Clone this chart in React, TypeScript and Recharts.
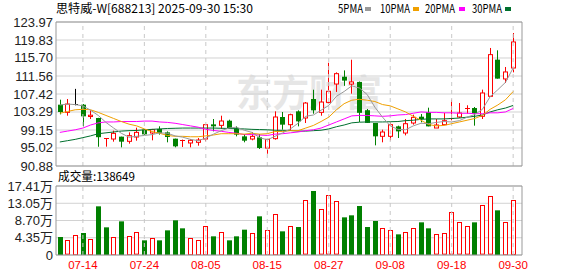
import React from 'react';
import { ComposedChart, Bar, Line, XAxis, YAxis, CartesianGrid, ReferenceLine } from 'recharts';

const dates = [
  '07-09','07-10','07-11','07-14','07-15','07-16','07-17','07-18','07-21','07-22',
  '07-23','07-24','07-25','07-28','07-29','07-30','07-31','08-01','08-04','08-05',
  '08-06','08-07','08-08','08-11','08-12','08-13','08-14','08-15','08-18','08-19',
  '08-20','08-21','08-22','08-25','08-26','08-27','08-28','08-29','09-01','09-02',
  '09-03','09-04','09-05','09-08','09-09','09-10','09-11','09-12','09-15','09-16',
  '09-17','09-18','09-19','09-22','09-23','09-24','09-25','09-26','09-29','09-30',
];
const opens = [
  104.97,103.21,105.05,104.97,102.25,101.91,97.1,97.08,97.62,96.55,
  97.54,99.23,98.46,99.38,98.61,97.16,96.8,96.17,96.32,97.08,
  100.45,100.22,101.29,99.53,97.69,97.08,97.47,95.0,97.16,102.14,
  100.38,103.44,101.91,106.27,103.21,105.5,109.72,111.4,109.7,110.2,
  103.7,100.76,97.7,97.7,99.99,98.46,100.76,102.21,103.29,99.61,
  100.38,101.83,102.15,104.0,104.2,102.3,106.9,115.32,110.88,113.4,
];
const highs = [
  106.12,106.27,108.6,105.12,103.66,101.95,97.24,99.0,97.62,98.61,
  99.69,99.38,99.4,100.0,98.84,97.16,96.95,97.08,97.31,100.45,
  101.68,102.44,101.52,99.99,98.23,98.69,98.23,97.1,103.44,103.29,
  102.9,103.67,105.58,108.41,108.41,114.6,112.4,112.85,115.3,110.3,
  103.98,100.76,99.23,100.91,100.15,101.68,102.67,102.82,104.28,101.68,
  103.06,106.12,105.35,104.83,104.44,108.43,118.0,117.46,113.63,121.44,
];
const lows = [
  102.75,102.44,104.82,99.99,101.68,95.3,95.32,96.47,95.17,96.01,
  96.7,98.07,96.78,98.08,96.32,95.17,95.25,95.17,95.55,96.55,
  98.84,99.38,99.38,97.69,96.32,96.78,94.79,93.7,96.93,99.23,
  99.0,99.99,100.76,102.9,102.44,105.3,107.9,109.3,107.5,101.0,
  100.76,95.63,96.32,96.78,97.31,97.92,100.38,100.91,99.99,99.61,
  100.38,101.37,101.91,102.9,100.15,101.68,106.9,110.96,109.96,112.4,
];
const closes = [
  103.29,105.12,105.05,102.29,102.55,97.5,97.24,98.38,96.47,97.85,
  98.61,98.15,99.23,98.46,97.54,95.4,96.95,96.78,96.85,100.38,
  99.99,101.22,99.53,98.08,96.7,97.69,95.02,97.0,102.14,100.38,
  102.67,101.14,105.35,103.67,105.58,108.05,112.1,110.5,110.2,103.1,
  100.78,97.7,98.69,100.38,98.84,100.6,102.06,101.68,99.99,100.3,
  101.29,101.95,103.06,104.1,102.9,107.66,116.47,110.96,112.49,119.38,
];
const ma5 = [
  104.9,105.1,105.0,104.7,103.7,102.5,100.9,99.6,98.4,97.5,
  97.7,97.9,98.1,98.5,98.4,97.8,97.5,97.0,96.7,97.3,
  98.2,99.0,99.6,99.8,99.1,98.6,97.4,96.9,97.7,98.5,
  99.4,100.7,102.3,102.6,103.7,104.8,106.9,108.0,109.3,108.8,
  107.3,104.4,102.1,100.1,99.3,99.2,100.1,100.7,100.6,100.9,
  101.1,101.0,101.3,102.1,102.7,103.9,106.8,108.4,110.1,113.4,
];
const ma10 = [
  103.0,103.4,103.8,103.9,103.8,103.2,102.5,101.8,101.1,100.5,
  100.1,99.4,98.8,98.4,97.9,97.7,97.7,97.6,97.6,97.8,
  98.0,98.3,98.3,98.3,98.2,98.4,98.2,98.3,98.8,98.8,
  99.0,99.0,99.6,100.2,101.1,102.1,103.8,105.2,106.0,106.2,
  106.0,105.7,105.0,104.7,104.0,103.3,102.3,101.4,100.4,100.1,
  100.2,100.6,101.0,101.4,101.8,102.5,103.9,104.9,106.1,108.0,
];
const ma20 = [
  98.6,98.9,99.2,99.6,100.3,100.8,101.0,101.0,101.1,101.1,
  101.1,101.2,101.2,101.0,100.9,100.7,100.4,100.1,99.8,99.3,
  99.05,98.85,98.6,98.4,98.1,98.1,98.0,97.9,98.2,98.3,
  98.5,98.7,99.0,99.2,99.6,100.3,101.0,101.7,102.4,102.5,
  102.5,102.4,102.3,102.4,102.6,102.7,103.0,103.3,103.2,103.2,
  103.1,103.1,103.0,103.0,102.9,102.9,103.1,103.1,103.3,104.1,
];
const ma30 = [
  96.4,96.7,97.0,97.4,97.8,98.3,98.5,98.7,98.9,99.0,
  99.05,99.2,99.3,99.4,99.5,99.55,99.6,99.6,99.6,99.6,
  99.6,99.55,99.5,99.45,99.4,99.3,99.25,99.2,99.1,99.07,
  99.04,98.9,98.9,99.0,99.1,99.4,99.9,100.3,100.8,100.95,
  101.0,101.0,101.0,101.05,101.1,101.3,101.4,101.6,101.7,101.7,
  101.7,101.8,101.9,102.1,102.3,102.6,103.3,103.8,104.2,104.8,
];
// volume in 万 (10k shares)
const volumes = [
  4.54,3.70,5.13,5.55,4.12,12.28,6.98,4.63,8.49,4.88,
  5.72,3.70,4.37,3.70,6.22,8.75,6.73,4.37,3.87,7.40,
  4.71,5.89,3.70,4.71,6.39,5.63,9.76,6.39,10.43,5.97,
  7.40,7.06,13.79,16.15,11.52,15.05,13.54,9.50,10.01,12.36,
  7.06,8.58,6.90,6.39,5.21,5.89,6.90,8.24,6.73,5.21,
  5.47,10.76,8.24,7.23,8.24,12.53,14.80,11.27,8.41,13.86,
];
// 1 = red (hollow) volume bar, 0 = green
const volRed = [
  0,1,1,0,1,0,0,1,0,1,
  1,0,1,0,0,0,0,1,1,1,
  0,1,0,0,0,1,0,1,1,0,
  1,0,1,0,1,1,1,0,0,0,
  0,0,1,1,0,1,1,0,0,1,
  1,1,1,1,0,1,1,0,1,1,
];
const priceTicks = [90.88, 95.02, 99.15, 103.29, 107.42, 111.56, 115.70, 119.83, 123.97];
const volTicks = [0, 4.35, 8.70, 13.05, 17.41];
const labelDates = ['07-14', '07-24', '08-05', '08-15', '08-27', '09-08', '09-18', '09-30'];
const title = '思特威-W[688213] 2025-09-30 15:30';
const volTitle = '成交量:138649';
const maNames = ['5PMA', '10PMA', '20PMA', '30PMA'];
const maColors = ['#999999', '#f0a000', '#ff00ff', '#00702e'];

const data = dates.map((date, i) => ({
  date,
  open: opens[i],
  high: highs[i],
  low: lows[i],
  close: closes[i],
  ma5: ma5[i],
  ma10: ma10[i],
  ma20: ma20[i],
  ma30: ma30[i],
  vol: volumes[i],
  volRed: volRed[i] === 1,
}));

const RED = '#ff0000';
const GREEN = '#008000';
const BORDER = '#999999';
const GRID = '#d2d2d2';
const W = 578;
const PAD = { left: 0, right: 5 };

function Candle(props: any) {
  const { x, y, width, height, payload } = props;
  if (x == null || y == null || !payload) return null;
  const top = height >= 0 ? y : y + height;
  const h = Math.abs(height);
  const { open, close, high, low } = payload;
  const yOf = (v: number) => top + ((high - v) / (high - low)) * h;
  const cx = Math.round(x + width / 2);
  const yo = yOf(open);
  const yc = yOf(close);
  const bt = Math.min(yo, yc);
  const bb = Math.max(yo, yc);
  const color = close === open ? '#000' : close > open ? RED : GREEN;
  const wick = <line x1={cx + 0.5} x2={cx + 0.5} y1={top} y2={top + h} stroke={color} strokeWidth={1} />;
  if (close === open || bb - bt < 1) {
    const ly = Math.round(yc) + 0.5;
    return (
      <g>
        {wick}
        <line x1={cx - 2} x2={cx + 3} y1={ly} y2={ly} stroke={color} strokeWidth={1} />
      </g>
    );
  }
  if (close > open) {
    return (
      <g>
        {wick}
        <rect x={cx - 1.5} y={bt} width={4} height={bb - bt} fill="#fff" stroke={RED} strokeWidth={1} />
      </g>
    );
  }
  return (
    <g>
      {wick}
      <rect x={cx - 2} y={bt} width={5} height={bb - bt} fill={GREEN} />
    </g>
  );
}

function VolBar(props: any) {
  const { x, y, width, height, payload } = props;
  if (x == null || y == null || !payload) return null;
  const cx = Math.round(x + width / 2);
  if (payload.volRed) {
    return <rect x={cx - 1.5} y={Math.round(y) + 0.5} width={4} height={Math.max(0, height - 1)} fill="#fff" stroke={RED} strokeWidth={1} />;
  }
  return <rect x={cx - 2} y={y} width={5} height={height} fill={GREEN} />;
}

const PriceTick = (p: any) => (
  <text x={p.x} y={p.y} dy={4.5} textAnchor="end" fontSize={13} fill="#222" fontFamily="'Liberation Sans', Arial, sans-serif">
    {Number(p.payload.value).toFixed(2)}
  </text>
);

const VolTick = (p: any) => {
  const v = Number(p.payload.value);
  return (
    <text x={p.x} y={p.y} dy={4.5} textAnchor="end" fontSize={13} fill="#222" fontFamily="'Liberation Sans', 'Noto Sans CJK SC', sans-serif">
      {v === 0 ? '0' : v.toFixed(2) + '万'}
    </text>
  );
};

const DateTick = (p: any) => (
  <text x={p.x} y={p.y + 14} textAnchor="middle" fontSize={11.5} fill={RED} fontFamily="'Liberation Sans', Arial, sans-serif">
    {p.payload.value}
  </text>
);

export default function App() {
  return (
    <div style={{ position: 'absolute', left: 0, top: 0, width: W, height: 276, background: '#fff', overflow: 'hidden' }}>
      {/* watermark */}
      <svg width={W} height={276} style={{ position: 'absolute', left: 0, top: 0 }}>
        <text x={236} y={107} fontSize={37} fontWeight={700} fill="#e6e6e6" fontFamily="'Noto Sans CJK SC', sans-serif" textLength={146} lengthAdjust="spacingAndGlyphs">
          东方财富
        </text>
      </svg>

      {/* price panel */}
      <div style={{ position: 'absolute', left: 0, top: 0 }}>
        <ComposedChart width={W} height={178} data={data} margin={{ top: 21, right: 55, bottom: 11, left: 0 }}>
          <CartesianGrid vertical={false} stroke={GRID} />
          <XAxis dataKey="date" height={1} tick={false} tickLine={false} axisLine={{ stroke: BORDER }} padding={PAD} />
          <XAxis xAxisId="top" orientation="top" dataKey="date" height={1} tick={false} tickLine={false} axisLine={{ stroke: BORDER }} padding={PAD} />
          <YAxis
            width={56}
            domain={[priceTicks[0], priceTicks[priceTicks.length - 1]]}
            ticks={priceTicks}
            allowDataOverflow
            interval={0}
            tickSize={0}
            tickMargin={3}
            tickLine={false}
            axisLine={{ stroke: BORDER }}
            tick={<PriceTick />}
          />
          <YAxis yAxisId="right" orientation="right" width={1} tick={false} tickLine={false} axisLine={{ stroke: BORDER }} />
          {labelDates.map((d) => (
            <ReferenceLine key={d} x={d} stroke="#c8c8c8" strokeDasharray="4 4" />
          ))}
          <Line dataKey="ma30" name={maNames[3]} stroke={maColors[3]} strokeWidth={1} dot={false} isAnimationActive={false} type="linear" />
          <Line dataKey="ma20" name={maNames[2]} stroke={maColors[2]} strokeWidth={1} dot={false} isAnimationActive={false} type="linear" />
          <Line dataKey="ma10" name={maNames[1]} stroke={maColors[1]} strokeWidth={1} dot={false} isAnimationActive={false} type="linear" />
          <Line dataKey="ma5" name={maNames[0]} stroke={maColors[0]} strokeWidth={1} dot={false} isAnimationActive={false} type="linear" />
          <Bar dataKey={(d: any) => [d.low, d.high]} barSize={5} shape={<Candle />} isAnimationActive={false} />
        </ComposedChart>
      </div>

      {/* volume panel */}
      <div style={{ position: 'absolute', left: 0, top: 170 }}>
        <ComposedChart width={W} height={106} data={data} margin={{ top: 15, right: 55, bottom: 0, left: 0 }}>
          <CartesianGrid vertical={false} stroke={GRID} />
          <XAxis
            dataKey="date"
            height={21}
            ticks={labelDates}
            interval={0}
            tickSize={0}
            tickMargin={0}
            tickLine={false}
            axisLine={{ stroke: BORDER }}
            tick={<DateTick />}
            padding={PAD}
          />
          <XAxis xAxisId="top" orientation="top" dataKey="date" height={1} tick={false} tickLine={false} axisLine={{ stroke: BORDER }} padding={PAD} />
          <YAxis
            width={56}
            domain={[volTicks[0], volTicks[volTicks.length - 1]]}
            ticks={volTicks}
            allowDataOverflow
            interval={0}
            tickSize={0}
            tickMargin={3}
            tickLine={false}
            axisLine={{ stroke: BORDER }}
            tick={<VolTick />}
          />
          <YAxis yAxisId="right" orientation="right" width={1} tick={false} tickLine={false} axisLine={{ stroke: BORDER }} />
          {labelDates.map((d) => (
            <ReferenceLine key={d} x={d} stroke="#c8c8c8" strokeDasharray="4 4" />
          ))}
          <Bar dataKey="vol" barSize={5} shape={<VolBar />} isAnimationActive={false} />
        </ComposedChart>
      </div>

      {/* header texts */}
      <svg width={W} height={276} style={{ position: 'absolute', left: 0, top: 0, pointerEvents: 'none' }}>
        <text x={56} y={13} fontSize={12} fill="#000" fontFamily="'Noto Sans CJK SC', sans-serif" textLength={197} lengthAdjust="spacingAndGlyphs">
          {title}
        </text>
        {maNames.map((n, i) => {
          const xs = [338, 380, 425, 472];
          const tl = [25, 30, 30, 30];
          const sq = [365, 413, 459, 505];
          return (
            <g key={n}>
              <text x={xs[i]} y={13} fontSize={12} fill="#000" fontFamily="'Noto Sans CJK SC', sans-serif" textLength={tl[i]} lengthAdjust="spacingAndGlyphs">
                {n}
              </text>
              <rect x={sq[i]} y={7} width={6} height={4} fill={maColors[i]} />
            </g>
          );
        })}
        <text x={58} y={181} fontSize={12} fill="#000" fontFamily="'Noto Sans CJK SC', sans-serif" textLength={77} lengthAdjust="spacingAndGlyphs">
          {volTitle}
        </text>
      </svg>
    </div>
  );
}
